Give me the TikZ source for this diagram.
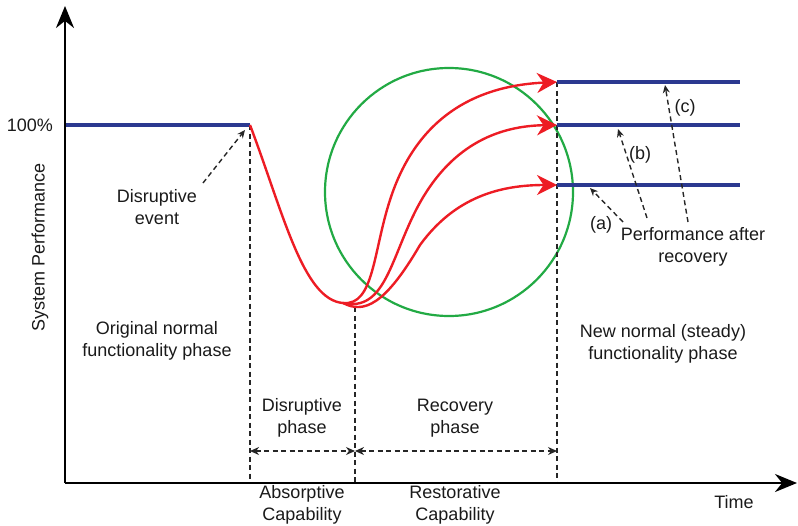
\documentclass[tikz,border=0pt]{standalone}
\usepackage{fontspec}
\setmainfont{Liberation Sans}
\usetikzlibrary{arrows.meta}
\definecolor{perfblue}{HTML}{2B3990}
\definecolor{curvered}{HTML}{ED1C24}
\definecolor{circgreen}{HTML}{22AA44}
\definecolor{txt}{HTML}{1A1A1A}
\tikzset{
  lbl/.style={font=\fontsize{18}{22}\selectfont, text=txt, align=center, inner sep=0pt},
  axis/.style={line width=2.6pt, black, -{Stealth[length=22pt,width=18pt]}},
  perf/.style={line width=4pt, perfblue},
  rcurve/.style={line width=2.4pt, curvered},
  rarrow/.style={rcurve, -{Stealth[length=20pt,width=20pt]}},
  guide/.style={line width=1.4pt, black!85, dash pattern=on 5pt off 3.5pt},
  pointer/.style={guide, -{Stealth[length=8pt,width=7pt]}},
  span/.style={guide, {Stealth[length=9pt,width=8pt]}-{Stealth[length=9pt,width=8pt]}},
}
\begin{document}
\begin{tikzpicture}[x=1pt,y=-1pt]
\useasboundingbox (0,0) rectangle (798,525);
% key points
\coordinate (O) at (65,483);
\coordinate (Ytop) at (65,6);
\coordinate (Xend) at (797,483);
\coordinate (L100) at (65,125);
\coordinate (A) at (250,125);
\coordinate (M) at (343,303);
\coordinate (Mv) at (355,307);
\coordinate (R1) at (557,82);
\coordinate (R2) at (557,125);
\coordinate (R3) at (557,185);
\coordinate (E1) at (740,82);
\coordinate (E2) at (740,125);
\coordinate (E3) at (740,185);
\coordinate (C) at (449,192);
% green circle
\draw[circgreen, line width=2.2pt] (C) circle (124);
% dashed verticals
\draw[guide] (A) -- (A |- O);
\draw[guide] (Mv) -- (Mv |- O);
\draw[guide] (R1) -- (R1 |- O);
% span arrows
\coordinate (S1) at (250,451);
\coordinate (S2) at (355,451);
\coordinate (S3) at (557,451);
\draw[span] (S1) -- (S2);
\draw[span] (S2) -- (S3);
% blue performance lines
\draw[perf] (L100) -- (A);
\draw[perf] (R1) -- (E1);
\draw[perf] (R2) -- (E2);
\draw[perf] (R3) -- (E3);
% red curves
\draw[rcurve] (A) .. controls (283,212) and (303,300) .. (M);
\draw[rarrow] (M) .. controls (374,306) and (373,252) .. (390,200) .. controls (415,122) and (470,86) .. (R1);
\draw[rarrow] (M) .. controls (384,312) and (390,262) .. (415,212) .. controls (445,152) and (490,126) .. (R2);
\draw[rarrow] (M) .. controls (364,314) and (385,305) .. (420,245) .. controls (455,197) and (500,185) .. (R3);
% axes
\draw[axis] (O) -- (Ytop);
\draw[axis] (O) -- (Xend);
% labels
\node[lbl, anchor=east] (p100) at (53,125) {100\%};
\node[lbl, rotate=90] (ylab) at (40,247) {System Performance};
\node[lbl] (devent) at (157,207) {Disruptive\\event};
\node[lbl] (orig) at (157,341) {Original normal\\functionality phase};
\node[lbl] (newn) at (663,344) {New normal (steady)\\functionality phase};
\node[lbl] (dphase) at (302,418) {Disruptive\\phase};
\node[lbl] (rphase) at (455,418) {Recovery\\phase};
\node[lbl] (absorb) at (302,505) {Absorptive\\Capability};
\node[lbl] (restor) at (455,505) {Restorative\\Capability};
\node[lbl] (time) at (734,502) {Time};
\node[lbl] (pafter) at (693,247) {Performance after\\recovery};
\node[lbl] (la) at (601,225) {(a)};
\node[lbl] (lb) at (640,155) {(b)};
\node[lbl] (lc) at (685,108) {(c)};
% pointers
\coordinate (dE0) at (203,183);
\coordinate (dE1) at (245,130);
\draw[pointer] (dE0) -- (dE1);
\coordinate (pa0) at (623,222);
\coordinate (pa1) at (590,188);
\coordinate (pb0) at (647,218);
\coordinate (pb1) at (618,129);
\coordinate (pc0) at (688,222);
\coordinate (pc1) at (665,85);
\draw[pointer] (pa0) -- (pa1);
\draw[pointer] (pb0) -- (pb1);
\draw[pointer] (pc0) -- (pc1);
\end{tikzpicture}
\end{document}
